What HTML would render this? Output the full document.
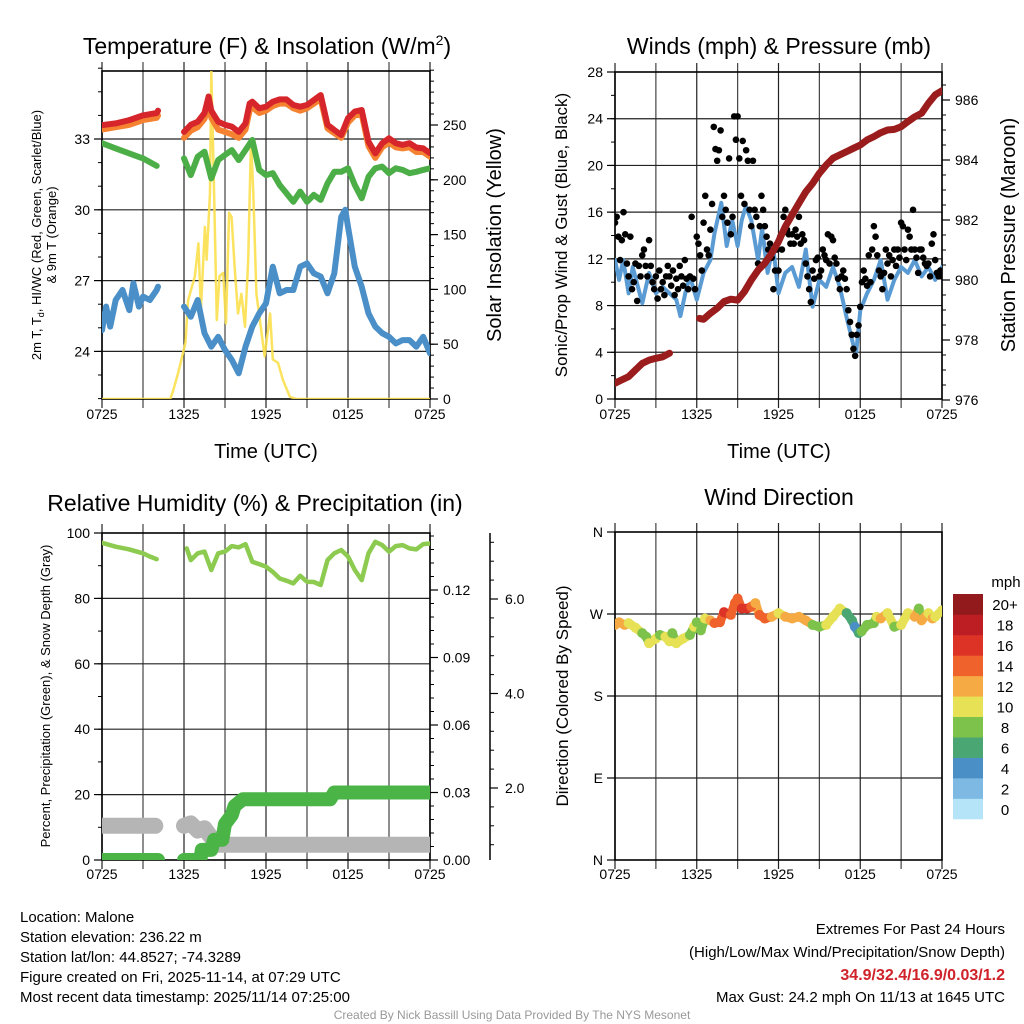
<!DOCTYPE html>
<html><head><meta charset="utf-8">
<style>
html,body{margin:0;padding:0;background:#fff;}
svg{display:block;font-family:"Liberation Sans",Arial,sans-serif;}
</style></head>
<body>
<svg id="chart" width="1024" height="1024" viewBox="0 0 1024 1024" xmlns="http://www.w3.org/2000/svg">
<rect x="0" y="0" width="1024" height="1024" fill="#fff"/>
<defs>
<clipPath id="c1"><rect x="102" y="71" width="328" height="328"/></clipPath>
<clipPath id="c2"><rect x="615" y="72" width="327" height="327"/></clipPath>
<clipPath id="c3"><rect x="102" y="533" width="328" height="327"/></clipPath>
<clipPath id="c4"><rect x="615" y="532" width="327" height="328"/></clipPath>
</defs>
<g id="g-grid"></g>
<g id="g-data"></g>
<g id="g-axes"></g>
<!-- titles -->
<text x="267" y="54" font-size="23" text-anchor="middle">Temperature (F) &amp; Insolation (W/m<tspan font-size="14" dy="-9">2</tspan><tspan dy="9">)</tspan></text>
<text x="779" y="54" font-size="23" text-anchor="middle">Winds (mph) &amp; Pressure (mb)</text>
<text x="255" y="511" font-size="23" text-anchor="middle">Relative Humidity (%) &amp; Precipitation (in)</text>
<text x="779" y="505" font-size="23" text-anchor="middle">Wind Direction</text>
<!-- axis titles -->
<text transform="translate(41,235) rotate(-90)" font-size="13" text-anchor="middle">2m T, T<tspan font-size="9" dy="3">d</tspan><tspan dy="-3">, HI/WC (Red, Green, Scarlet/Blue)</tspan></text>
<text transform="translate(56,235) rotate(-90)" font-size="13" text-anchor="middle">&amp; 9m T (Orange)</text>
<text transform="translate(501,235) rotate(-90)" font-size="20" text-anchor="middle">Solar Insolation (Yellow)</text>
<text x="266" y="458" font-size="20" text-anchor="middle">Time (UTC)</text>
<text transform="translate(567,235) rotate(-90)" font-size="17" text-anchor="middle">Sonic/Prop Wind &amp; Gust (Blue, Black)</text>
<text transform="translate(1015,235) rotate(-90)" font-size="20" text-anchor="middle">Station Pressure (Maroon)</text>
<text x="779" y="458" font-size="20" text-anchor="middle">Time (UTC)</text>
<text transform="translate(50,696) rotate(-90)" font-size="13" text-anchor="middle">Percent, Precipitation (Green), &amp; Snow Depth (Gray)</text>
<text transform="translate(568,696) rotate(-90)" font-size="17" text-anchor="middle">Direction (Colored By Speed)</text>
<!-- footer -->
<g font-size="15">
<text x="20" y="922">Location: Malone</text>
<text x="20" y="942">Station elevation: 236.22 m</text>
<text x="20" y="962">Station lat/lon: 44.8527; -74.3289</text>
<text x="20" y="982">Figure created on Fri, 2025-11-14, at 07:29 UTC</text>
<text x="20" y="1002">Most recent data timestamp: 2025/11/14 07:25:00</text>
</g>
<g font-size="15" text-anchor="end">
<text x="1005" y="934">Extremes For Past 24 Hours</text>
<text x="1005" y="957">(High/Low/Max Wind/Precipitation/Snow Depth)</text>
<text x="1005" y="980" fill="#d0222a" font-weight="bold" font-size="16">34.9/32.4/16.9/0.03/1.2</text>
<text x="1005" y="1002">Max Gust: 24.2 mph On 11/13 at 1645 UTC</text>
</g>
<text x="512" y="1019" font-size="12" fill="#999" text-anchor="middle">Created By Nick Bassill Using Data Provided By The NYS Mesonet</text>
</svg>
<script>
// ---------- data ----------
const xTickLabels = ["0725","1325","1925","0125","0725"];
const redTimes = [0,1,2,3,4,4.1,null,6,6.5,7,7.5,7.8,8,8.5,9,9.5,10,10.5,10.8,11,11.5,12,12.5,13,13.5,14,14.5,15,15.5,16,16.5,17,17.5,18,18.5,19,19.5,20,20.5,21,21.5,22,22.5,23,23.5,24];
const redTemp = [33.59,33.66,33.8,34.0,34.1,34.2,null,33.3,33.6,33.73,34.1,34.8,34.2,33.73,33.6,33.52,33.3,33.66,34.5,34.58,34.3,34.37,34.58,34.68,34.68,34.44,34.37,34.44,34.65,34.86,33.6,33.38,33.17,33.88,34.16,34.23,32.89,32.39,32.82,33.03,32.82,32.75,32.82,32.64,32.6,32.4];
const orangeTemp = [33.4,33.5,33.6,33.8,33.9,34.0,null,33.05,33.35,33.5,33.85,34.5,33.9,33.4,33.3,33.2,33.05,33.4,34.2,34.35,34.1,34.2,34.4,34.5,34.5,34.3,34.2,34.3,34.5,34.7,33.45,33.25,33.05,33.7,34.0,34.05,32.7,32.2,32.65,32.85,32.65,32.6,32.65,32.45,32.45,32.25];
const greenTimes = [0,1,2,3,4,null,6,6.5,7,7.5,8,8.5,9,9.5,10,10.5,11,11.5,12,12.5,13,13.5,14,14.5,15,15.5,16,16.5,17,17.5,18,18.5,19,19.5,20,20.5,21,21.5,22,22.5,23,23.5,24];
const greenTemp = [32.82,32.6,32.39,32.18,31.86,null,32.18,31.47,32.25,32.46,31.33,32.11,32.32,32.53,32.11,32.53,32.96,31.69,31.47,31.55,31.05,30.7,30.34,30.77,30.34,30.63,30.42,31.12,31.61,31.61,31.76,31.05,30.49,31.4,31.76,31.83,31.55,31.76,31.69,31.55,31.61,31.69,31.76];
const blueTimes = [0,0.3,0.6,1,1.5,2,2.3,2.7,3,3.5,4,4.1,null,6,6.5,7,7.5,8,8.5,9,9.5,10,10.5,11,11.5,12,12.5,13,13.5,14,14.5,15,15.5,16,16.5,17,17.5,17.8,18,18.5,19,19.5,20,20.5,21,21.5,22,22.5,23,23.5,24];
const blueTemp = [24.9,25.9,25.05,26.18,26.6,25.75,26.89,25.9,26.32,26.18,26.6,26.74,null,25.9,25.47,26.18,24.77,24.2,24.62,24.06,23.64,23.07,24.2,25.05,25.61,26.04,27.59,26.46,26.6,26.6,27.59,27.73,27.31,27.17,26.46,27.31,29.7,30.0,29.28,27.59,26.74,25.61,25.05,24.77,24.62,24.34,24.48,24.48,24.2,24.62,23.92];
const solarTimes = [0,5,5.22,5.6,6.1,6.3,6.8,7.05,7.24,7.53,7.65,7.9,8.0,8.2,8.4,8.6,8.87,9.07,9.3,9.48,9.7,9.95,10.2,10.46,10.7,10.9,11.07,11.3,11.68,11.9,12.3,12.5,12.88,13.25,13.75,14.2,24];
const solarValues = [0,0,8,25,51,90,112,142,81,157,127,188,299,188,72,112,115,69,170,166,121,78,96,66,127,236,188,96,60,39,78,36,33,17,2,0,0];
const tempTicks = [24,27,30,33];
const solarTicks = [0,50,100,150,200,250];

const windTimes = [0,0.3,0.6,1,1.3,2,2.5,3,3.5,4,4.5,4.8,5.2,5.5,6,6.5,7,7.3,7.8,8.2,8.6,9,9.3,9.6,10,10.5,10.8,11.2,11.6,12,12.5,13,13.5,14,14.5,15,15.5,16,16.5,17,17.5,17.7,18,18.5,19,19.5,20,20.5,21,21.5,22,22.5,23,23.5,24];
const windSpeed = [11.9,10.2,11.9,9.05,11.3,8.2,10.8,9.05,9.6,9.05,8.5,7.1,9.3,10.5,8.5,10.8,11.9,14.2,16.8,13.1,15.3,13.1,15.3,16.5,15.3,11.9,14.6,10.8,13.1,9.05,10.8,11.3,9.6,12.8,7.9,10.2,9.6,11.3,9.6,7.0,4.6,4.0,7.6,9.05,10.2,11.9,8.5,10.2,11.3,10.8,11.9,10.5,11.3,10.2,11.3];
const gustValues = [
15.1,15.6,13.9,11.9,13.6,16.0,14.1,11.6, 10.5,13.9,9.4,10.0,11.6,8.4,11.4,10.5,
12.3,12.8,11.4,10.5,13.6,11.4,10.0,9.4, 10.5,8.6,11.0,9.4,10.0,8.9,10.5,11.4,
10.5,9.7,11.0,8.9,10.3,9.4,11.4,10.5, 9.7,11.9,10.3,9.4,10.5,15.6,10.3,9.4,
13.9,13.3,12.3,11.0,15.1,17.4,12.8,12.3, 14.5,16.7,23.3,21.4,20.4,21.3,23.0,15.6,
17.4,16.2,15.1,20.6,14.1,15.6,24.2,22.2, 24.2,20.6,17.4,22.1,16.7,21.3,20.4,16.2,
14.8,20.4,16.2,15.6,11.6,14.8,17.4,16.2, 14.8,13.9,12.8,13.3,12.1,9.4,11.0,12.8,
11.0,13.9,12.8,15.6,16.2,14.5,14.1,13.3, 14.1,13.3,14.5,13.9,15.6,13.3,14.1,13.6,
11.6,10.5,9.4,8.3,11.0,10.3,11.9,12.1, 10.5,11.0,12.8,12.3,11.9,14.1,11.6,13.9,
13.6,12.1,11.6,10.3,9.4,10.5,11.0,10.3, 9.4,7.6,6.6,5.5,4.3,3.7,5.5,6.3,
7.9,10.0,11.0,10.3,9.7,12.3,10.0,12.8, 14.8,13.9,12.3,11.0,10.5,9.4,10.8,12.8,
11.6,12.3,10.5,11.9,12.8,11.4,12.8,12.1, 15.1,14.8,12.8,11.9,14.5,13.9,12.8,16.2,
12.8,12.1,10.8,12.8,12.8,12.1,11.6,11.4, 11.6,10.5,13.3,14.1,11.9,10.8,10.5,11.0,
10.5];
const pressTimes = [0,0.5,1,1.5,2,2.5,3,3.5,4,null,6.2,6.5,7,7.5,8,8.5,9,9.5,10,10.5,11,11.5,12,12.5,13,13.5,14,14.5,15,15.5,16,16.5,17,17.5,18,18.5,19,19.5,20,20.5,21,21.5,22,22.5,23,23.5,24];
const pressValues = [976.56,976.67,976.78,977.0,977.22,977.33,977.39,977.44,977.56,null,978.72,978.69,978.89,979.06,979.28,979.36,979.33,979.61,980.0,980.33,980.56,980.89,981.28,981.78,982.17,982.56,982.94,983.22,983.56,983.83,984.06,984.17,984.28,984.39,984.5,984.67,984.78,984.91,985.0,985.02,985.11,985.28,985.44,985.56,985.89,986.17,986.31];
const windTicks = [0,4,8,12,16,20,24,28];
const pressTicks = [976,978,980,982,984,986];

const rhTimes = [0,1,2,3,3.5,4,null,6.2,6.5,7,7.5,8,8.5,9,9.5,10,10.5,11,11.5,12,12.5,13,13.5,14,14.5,15,15.5,16,16.5,17,17.5,18,18.5,19,19.5,20,20.5,21,21.5,22,22.5,23,23.5,24];
const rhValues = [97.0,95.8,95.0,93.8,92.8,92.0,null,95.3,91.7,93.8,94.3,88.7,93.8,94.3,96.0,95.6,96.6,91.2,90.5,89.7,88.1,86.1,85.4,84.6,86.9,85.1,85.0,84.1,91.7,93.8,94.8,92.8,88.7,85.6,93.8,97.3,96.3,94.3,96.0,96.3,95.3,95.0,96.6,96.8];
const precipTimes = [0,4.1,null,6,7.2,7.3,8.0,8.2,8.8,9.0,9.5,9.7,10.3,16.7,17.0,24];
const precipValues = [0,0,null,0,0,0.0045,0.0045,0.009,0.009,0.016,0.02,0.024,0.027,0.027,0.03,0.03];
const snowTimes = [0,3.9,null,6,6.5,7,7.5,8,8.5,24];
const snowValues = [1.2,1.2,null,1.2,1.25,1.1,1.15,0.95,0.8,0.8];
const rhTicks = [0,20,40,60,80,100];
const precipTicks = [0,0.03,0.06,0.09,0.12];
const precipTickLabels = ["0.00","0.03","0.06","0.09","0.12"];
const snowTicks = [2,4,6];
const snowTickLabels = ["2.0","4.0","6.0"];

const dirTimes = [0,0.3,0.7,1,1.5,2,2.3,2.5,3,3.3,3.7,4,4.2,4.5,5,5.5,5.8,6,6.3,6.6,7,7.3,7.7,8,8.5,8.8,9,9.3,9.7,10,10.3,10.6,11,11.5,12,12.5,13,13.5,14,14.5,15,15.5,16,16.5,17,17.4,17.6,17.9,18.1,18.5,19,19.2,19.5,20,20.5,21,21.5,22,22.3,22.5,23,23.3,23.5,24];
const dirValues = [258,261,258,260,255,249,245,238,243,247,245,240,249,238,243,247,256,261,252,265,263,260,261,272,269,282,287,276,276,278,282,269,265,267,271,267,265,267,263,258,256,258,267,276,271,263,256,249,251,258,260,267,265,271,256,258,271,267,276,263,271,265,267,274];
const dirSpeeds = [12,12,12,10,10,8,8,10,10,8,10,10,8,10,10,8,10,8,8,10,12,14,14,16,14,14,14,16,16,14,12,14,14,12,10,12,12,12,12,8,8,10,10,10,6,6,4,6,8,8,8,10,12,10,8,10,10,12,8,12,10,12,10,10];
const dirTicks = [0,90,180,270,360];
const dirTickLabels = ["N","E","S","W","N"];
const speedBinLabels = ["0","2","4","6","8","10","12","14","16","18","20+"];
const speedColors = ["#b5e3f8","#7db9e2","#4a8fc6","#4aa672","#7dc24a","#e6e155","#f6aa44","#ef622b","#dd3327","#bd1e24","#921a1c"];

// ---------- scales ----------
const xA = t => 102 + t*328/24;          // panels 1 & 3
const xB = t => 615 + t*327/24;          // panels 2 & 4
const yT = v => 139 - (v-33)*23.6;
const yS = v => 399 - v*1.096;
const yW = v => 399 - v*327/28;
const yP = p => 400 - (p-976)*30;
const yR = v => 860 - v*3.27;
const yPr = p => 860 - p*2250;
const ySn = s => 882.5 - s*47.25;
const yD = d => 860 - d*328/360;

const NS = "http://www.w3.org/2000/svg";
const gGrid = document.getElementById('g-grid');
const gData = document.getElementById('g-data');
const gAxes = document.getElementById('g-axes');
function mk(tag, attrs, parent){
  const e = document.createElementNS(NS, tag);
  for (const k in attrs) e.setAttribute(k, attrs[k]);
  parent.appendChild(e);
  return e;
}
function line(x1,y1,x2,y2,stroke,w,parent){
  return mk('line',{x1:x1,y1:y1,x2:x2,y2:y2,stroke:stroke,'stroke-width':w},parent);
}
function txt(x,y,s,size,anchor,parent){
  const e = mk('text',{x:x,y:y,'font-size':size,'text-anchor':anchor},parent);
  e.textContent = s;
  return e;
}
function pathD(times, vals, fx, fy){
  let d = '', pen = false;
  for (let i=0;i<times.length;i++){
    if (times[i]===null || vals[i]===null){ pen=false; continue; }
    d += (pen?'L':'M') + fx(times[i]).toFixed(1) + ' ' + fy(vals[i]).toFixed(1) + ' ';
    pen = true;
  }
  return d;
}
function series(name, times, vals, fx, fy, color, w, clip, opacity){
  const p = mk('path',{d:pathD(times,vals,fx,fy),fill:'none',stroke:color,'stroke-width':w,'stroke-linejoin':'round','stroke-linecap':'round','clip-path':'url(#'+clip+')','stroke-opacity':opacity||1},gData);
  
  
  return p;
}

// ---------- frames & grids ----------
function frame(name, x0,y0,x1,y1, hGrid, fx, xLabelsY){
  const g = mk('g',{},gGrid);
  
  
  for (let k=0;k<=8;k++){
    const x = fx(k*3);
    line(x,y0-9,x,y1+9,k%2===0?'#222':'#444',1.2,g);
  }
  hGrid.forEach(y => line(x0,y,x1,y,'#222',1.2,g));
  mk('rect',{x:x0,y:y0,width:x1-x0,height:y1-y0,fill:'none',stroke:'#000','stroke-width':1.6},g);
  if (xLabelsY) xTickLabels.forEach((s,i)=>{
    const t = txt(fx(i*6), xLabelsY, s, 14, 'middle', gAxes);
    
    
  });
}
frame('temperature-plot', 102,71,430,399, tempTicks.map(yT), xA, 419);
frame('winds-plot', 615,72,942,399, windTicks.slice(1,-1).map(yW), xB, 419);
frame('humidity-plot', 102,533,430,860, rhTicks.slice(1,-1).map(yR), xA, 879);
frame('direction-plot', 615,532,942,860, [yD(90),yD(180),yD(270)], xB, 879);

// ---------- axes ticks ----------
function leftAxis(x, ticks, labels, fy, minorFrom, minorTo, minorStep, size){
  ticks.forEach((v,i)=>{
    line(x-8,fy(v),x,fy(v),'#000',1.2,gAxes);
    const t = txt(x-12, fy(v)+5, labels[i], size||14, 'end', gAxes);
    
    
  });
  if (minorStep) for (let v=minorFrom; v<=minorTo+1e-9; v+=minorStep) line(x-4,fy(v),x,fy(v),'#000',1,gAxes);
}
function rightAxis(x, ticks, labels, fy, minorFrom, minorTo, minorStep, lx, size){
  ticks.forEach((v,i)=>{
    line(x,fy(v),x+8,fy(v),'#000',1.2,gAxes);
    const t = txt(lx, fy(v)+5, labels[i], size||14, 'start', gAxes);
    
    
  });
  if (minorStep) for (let v=minorFrom; v<=minorTo+1e-9; v+=minorStep) line(x,fy(v),x+4,fy(v),'#000',1,gAxes);
}
leftAxis(102, tempTicks, tempTicks.map(String), yT, 22, 36, 1);
rightAxis(430, solarTicks, solarTicks.map(String), yS, 0, 300, 10, 443);
leftAxis(615, windTicks, windTicks.map(String), yW, 0, 28, 2);
rightAxis(942, pressTicks, pressTicks.map(String), yP, 976, 986.8, 0.5, 955);
leftAxis(102, rhTicks, rhTicks.map(String), yR, 0, 100, 10);
rightAxis(430, precipTicks, precipTickLabels, yPr, 0, 0.144, 0.006, 443);
line(490,533,490,860,'#000',1.5,gAxes);
rightAxis(490, snowTicks, snowTickLabels, ySn, 0.8, 7.2, 0.4, 505);
leftAxis(615, dirTicks, dirTickLabels, yD, 0, 0, 0);

// ---------- panel 1 ----------
series('solar-insolation-line', solarTimes, solarValues, xA, yS, '#fbe04e', 2.5, 'c1', 0.9);
series('blue-temperature-line', blueTimes, blueTemp, xA, yT, '#4a8fc7', 6, 'c1');
series('green-temperature-line', greenTimes, greenTemp, xA, yT, '#4cae47', 6, 'c1');
series('orange-9m-temperature-line', redTimes, orangeTemp, xA, yT, '#f58230', 6, 'c1');
series('red-2m-temperature-line', redTimes, redTemp, xA, yT, '#d6262b', 6, 'c1');

// ---------- panel 2 ----------
series('sonic-wind-line', windTimes, windSpeed, xB, yW, '#5a9bd4', 4, 'c2');
gustValues.forEach((v,i)=>{
  const c = mk('circle',{cx:xB(i/8),cy:yW(v),r:3.3,fill:'#000','clip-path':'url(#c2)'},gData);
  
  
});
series('pressure-line', pressTimes, pressValues, xB, yP, '#9a1c1c', 7, 'c2');

// ---------- panel 3 ----------
series('snow-depth-line', snowTimes, snowValues, xA, ySn, '#b5b5b5', 16, 'c3');
series('precipitation-line', precipTimes, precipValues, xA, yPr, '#4ab447', 14, 'c3');
series('relative-humidity-line', rhTimes, rhValues, xA, yR, '#8ccb4f', 4.5, 'c3');

// ---------- panel 4 ----------
const colorFor = s => speedColors[Math.min(10, Math.max(0, Math.floor(s/2)))];
for (let i=0;i<dirTimes.length-1;i++){
  const l = line(xB(dirTimes[i]),yD(dirValues[i]),xB(dirTimes[i+1]),yD(dirValues[i+1]),colorFor(dirSpeeds[i]),9,gData);
  l.setAttribute('stroke-linecap','round');
  l.setAttribute('clip-path','url(#c4)');
  
  
}
dirTimes.forEach((t,i)=>{
  const c = mk('circle',{cx:xB(t),cy:yD(dirValues[i]),r:5,fill:colorFor(dirSpeeds[i]),'clip-path':'url(#c4)'},gData);
  
  
});

// ---------- colorbar ----------
const cb = mk('g',{},gAxes);


const binH = 225/11;
speedColors.forEach((c,i)=>{
  const yTop = 819 - (i+1)*binH;
  mk('rect',{x:953,y:yTop,width:30,height:binH+0.3,fill:c},cb);
  const t = txt(1005, yTop+binH/2+6, speedBinLabels[i], 15, 'middle', cb);
  
  
});
const mph = txt(1006, 587, 'mph', 15, 'middle', cb);


</script>
</body></html>
